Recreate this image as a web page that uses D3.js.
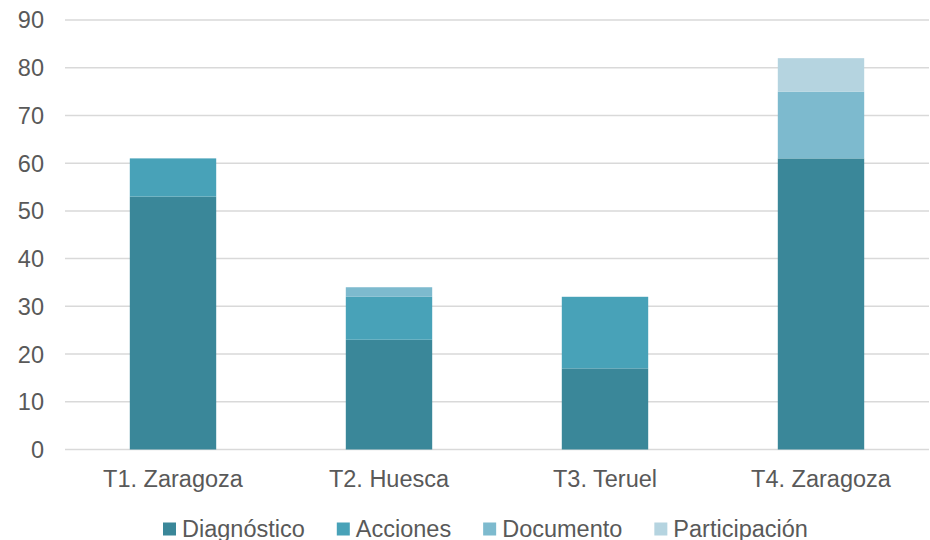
<!DOCTYPE html>
<html><head><meta charset="utf-8">
<script src="https://cdn.jsdelivr.net/npm/d3@7"></script>
<style>body{margin:0;background:#fff}svg{display:block}text{font-family:"Liberation Sans",Arial,sans-serif;fill:#595959}</style>
</head><body>
<svg id="c" width="930" height="540"></svg>
<script>
const categories = ["T1. Zaragoza","T2. Huesca","T3. Teruel","T4. Zaragoza"];
const seriesNames = ["Diagnóstico","Acciones","Documento","Participación"];
const diagnostico = [53,23,17,61];
const acciones = [8,9,15,0];
const documento = [0,2,0,14];
const participacion = [0,0,0,7];
const yTicks = [0,10,20,30,40,50,60,70,80,90];
const colors = ["#3A8799","#48A2B8","#7DBACE","#B5D4E0"];

const svg = d3.select("#c");
const x = d3.scaleBand().domain(categories).range([65,929]).paddingInner(0.6).paddingOuter(0.3);
const y = d3.scaleLinear().domain([0,90]).range([449.5,20]);

const rows = categories.map((c,i)=>({cat:c,"Diagnóstico":diagnostico[i],"Acciones":acciones[i],"Documento":documento[i],"Participación":participacion[i]}));
const stacked = d3.stack().keys(seriesNames)(rows);

// gridlines
svg.append("g").selectAll("line").data(yTicks).join("line")
  .attr("x1",65).attr("x2",929).attr("y1",d=>y(d)).attr("y2",d=>y(d))
  .attr("stroke","#d9d9d9").attr("stroke-width",1.5);

// y labels
svg.append("g").selectAll("text").data(yTicks).join("text")
  .attr("x",44).attr("y",d=>y(d)).attr("dy","0.36em").attr("text-anchor","end")
  .attr("font-size","23.5px").text(d=>d);

// bars
svg.append("g").selectAll("g").data(stacked).join("g")
  .attr("fill",(d,i)=>colors[i])
  .selectAll("rect").data(d=>d.filter(s=>s[1]-s[0]>0)).join("rect")
  .attr("x",d=>x(d.data.cat)).attr("width",x.bandwidth())
  .attr("y",d=>y(d[1])).attr("height",d=>y(d[0])-y(d[1]));

// x labels
svg.append("g").selectAll("text").data(categories).join("text")
  .attr("x",d=>x(d)+x.bandwidth()/2).attr("y",487).attr("text-anchor","middle")
  .attr("font-size","23.5px").text(d=>d);

// legend
const lg = svg.append("g");
let lx = 163;
seriesNames.forEach((n,i)=>{
  lg.append("rect").attr("x",lx).attr("y",522.5).attr("width",13).attr("height",13).attr("fill",colors[i]);
  const t = lg.append("text").attr("x",lx+19).attr("y",536.5).attr("font-size","23.5px").text(n);
  lx += 19 + t.node().getComputedTextLength() + 32;
});
</script>
</body></html>
